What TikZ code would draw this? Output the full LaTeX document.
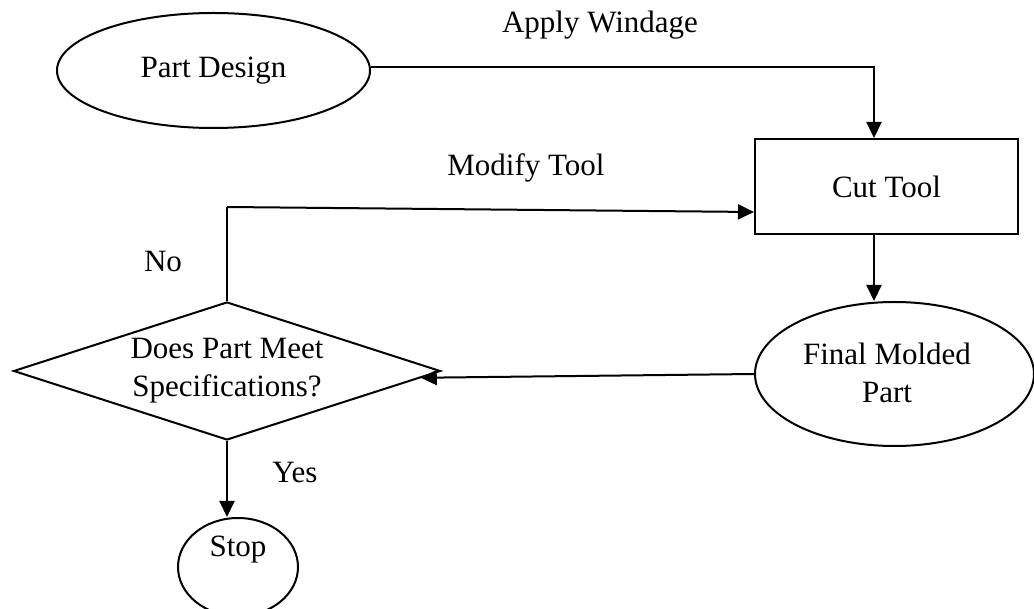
\documentclass[tikz,border=0pt]{standalone}
\usepackage{fontspec}
\setmainfont{Liberation Serif}
\usetikzlibrary{arrows.meta,shapes.geometric}
\begin{document}
\begin{tikzpicture}[x=1pt,y=-1pt,
  every node/.style={font=\fontsize{31}{38}\selectfont},
  shp/.style={draw=black,line width=2pt,inner sep=0pt},
  ell/.style={shp,ellipse},
  arr/.style={line width=2pt,-{Triangle[length=16pt,width=15pt]}},
  lnk/.style={line width=2pt},
  lbl/.style={inner sep=0pt}]
\path[use as bounding box] (0,0) rectangle (1034,609);
\begin{scope}
\clip (0,0) rectangle (1034,609);
\node[ell,minimum width=313pt,minimum height=115pt] (pd) at (213.5,70.5) {Part Design};
\node[shp,rectangle,minimum width=263pt,minimum height=95pt] (ct) at (886.5,186.5) {Cut Tool};
\node[ell,minimum width=279pt,minimum height=144pt] (fmp) at (894.5,374) {};
\node[lbl,align=center] (fmpt) at (887,373) {Final Molded\\Part};
\node[shp,diamond,aspect=3.09,minimum width=427pt,minimum height=138pt,align=center] (dia) at (227,371) {Does Part Meet\\Specifications?};
\node[ell,minimum width=120pt,minimum height=98pt] (stop) at (238,567) {};
\node[lbl] (stopt) at (238,550) {Stop};
\end{scope}
\node[lbl] (aw) at (600,25) {Apply Windage};
\node[lbl] (mt) at (526,168) {Modify Tool};
\node[lbl] (no) at (163,262) {No};
\node[lbl] (yes) at (295,473) {Yes};
\coordinate (nc) at (227,207);
\draw[arr] ([yshift=3pt]pd.east) -| ([xshift=-12.5pt]ct.north);
\draw[arr] ([xshift=-12.5pt]ct.south) -- ([xshift=-12.5pt]ct.south |- fmp.north);
\draw[arr] (fmp.west) -- (dia.-2);
\draw[lnk] (dia.north) -- (nc);
\draw[arr] (nc) -- ([yshift=-25.5pt]ct.west);
\draw[arr] (dia.south) -- (dia.south |- stop.north);
\end{tikzpicture}
\end{document}
